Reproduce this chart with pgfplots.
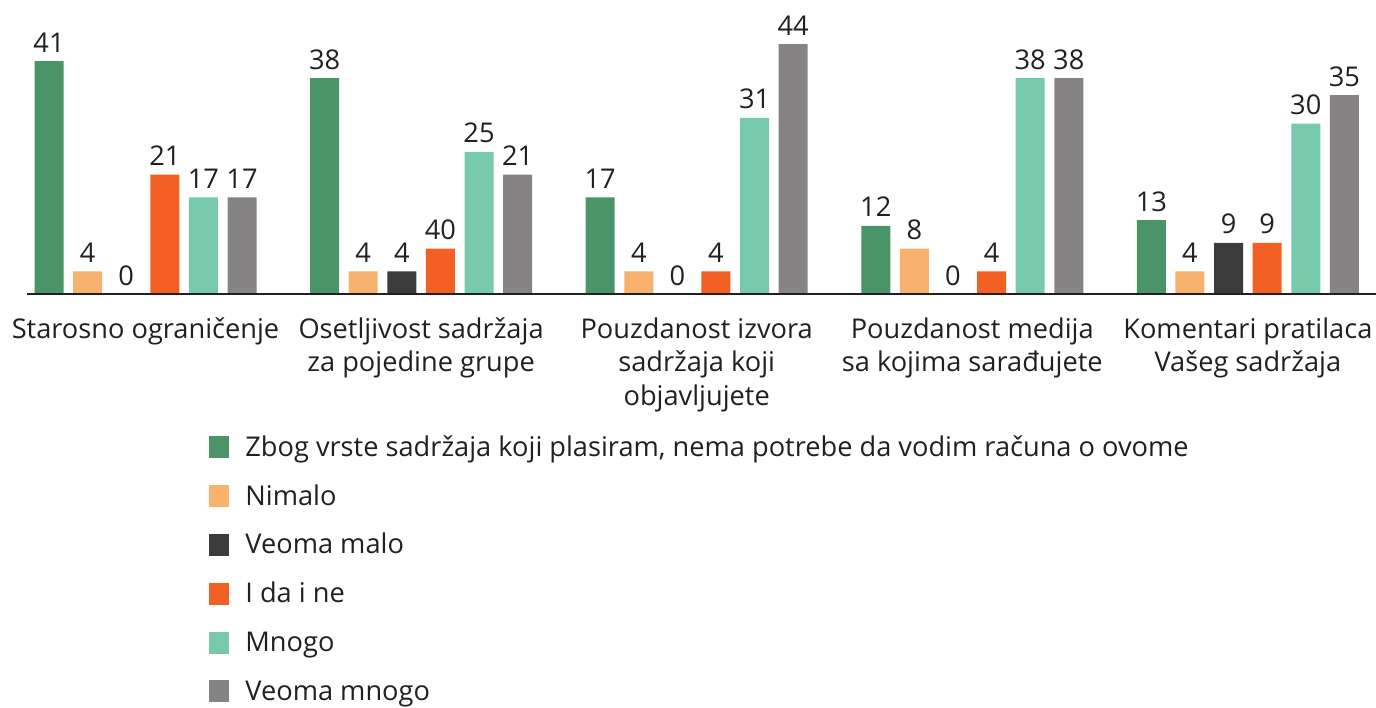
\documentclass[border=0pt]{standalone}
\usepackage{pgfplots}
\pgfplotsset{compat=1.18}
\usepackage{fontspec}
\setmainfont{Open Sans}
\definecolor{cgreen}{HTML}{4A9468}
\definecolor{cpeach}{HTML}{F9B16E}
\definecolor{cdark}{HTML}{3B3B3B}
\definecolor{corange}{HTML}{F26023}
\definecolor{cteal}{HTML}{76C9AB}
\definecolor{cgray}{HTML}{858384}
\definecolor{ctext}{HTML}{231F20}
\newcommand\chfont{\fontsize{13.6}{16.75}\selectfont}
\begin{document}
\begin{tikzpicture}
\useasboundingbox (0,0) rectangle (688pt,353.5pt);
\begin{axis}[
  at={(0pt,206.5pt)}, anchor=south west,
  scale only axis, width=688pt, height=147pt,
  xmin=-0.528, xmax=4.465, ymin=0, ymax=51.76,
  axis x line*=bottom, axis y line=none,
  x axis line style={draw=none},
  ytick=\empty,
  xtick={0,1,2,3,4},
  xticklabels={{Starosno ograničenje},{Osetljivost sadržaja\\za pojedine grupe},{Pouzdanost izvora\\sadržaja koji\\objavljujete},{Pouzdanost medija\\sa kojima sarađujete},{Komentari pratilaca\\Vašeg sadržaja}},
  major tick length=0pt,
  xticklabel style={align=center, font=\chfont, text=ctext, inner sep=0pt, anchor=north, yshift=-11.6pt},
  ybar=4.8pt, bar width=14.5pt,
  clip=false,
  point meta=explicit symbolic,
  nodes near coords,
  every node near coord/.append style={font=\chfont, text=ctext, inner sep=0pt, anchor=base, yshift=4.5pt},
  legend style={at={(axis description cs:0.1519,-0.483)}, anchor=north west, draw=none, fill=none, inner sep=0pt,
    row sep=12.0pt, column sep=8pt, font=\chfont, text=ctext,
    nodes={inner sep=0pt, text height=9.5pt, text depth=2.5pt}},
  legend cell align=left,
  legend image code/.code={\fill[#1] (0pt,-4.6pt) rectangle (10pt,6.4pt);},
]
\addplot[fill=cgreen, draw=none] coordinates {(0,41) [41] (1,38) [38] (2,17) [17] (3,12) [12] (4,13) [13]};
\addplot[fill=cpeach, draw=none] coordinates {(0,4) [4] (1,4) [4] (2,4) [4] (3,8) [8] (4,4) [4]};
\addplot[fill=cdark, draw=none] coordinates {(0,0) [0] (1,4) [4] (2,0) [0] (3,0) [0] (4,9) [9]};
\addplot[fill=corange, draw=none] coordinates {(0,21) [21] (1,8) [40] (2,4) [4] (3,4) [4] (4,9) [9]};
\addplot[fill=cteal, draw=none] coordinates {(0,17) [17] (1,25) [25] (2,31) [31] (3,38) [38] (4,30) [30]};
\addplot[fill=cgray, draw=none] coordinates {(0,17) [17] (1,21) [21] (2,44) [44] (3,38) [38] (4,35) [35]};
\legend{{Zbog vrste sadržaja koji plasiram, nema potrebe da vodim računa o ovome}, Nimalo, Veoma malo, I da i ne, Mnogo, Veoma mnogo}
\draw[line width=0.75pt, ctext] (axis cs:-0.43,0) -- (axis cs:4.465,0);
\end{axis}
\end{tikzpicture}
\end{document}
